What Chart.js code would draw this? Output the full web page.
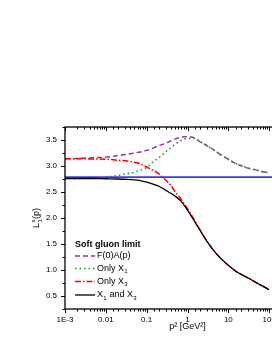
<!DOCTYPE html>
<html>
<head>
<meta charset="utf-8">
<script src="https://cdn.jsdelivr.net/npm/chart.js"></script>
<style>
  html, body { margin: 0; padding: 0; background: #fff; overflow: hidden; width: 272px; height: 352px; }
  canvas { display: block; }
</style>
</head>
<body>
<canvas id="chart" width="316" height="352"></canvas>
<script>
// p^2 sample points [GeV^2]
const p2 = [0.001, 0.002, 0.005, 0.01, 0.02, 0.03, 0.05, 0.07, 0.1, 0.15, 0.2, 0.3, 0.4, 0.5, 0.7,
            1, 1.5, 2, 3, 5, 7, 10, 15, 20, 30, 50, 70, 100];

// F(0)A(p)
const fA = [3.14, 3.145, 3.16, 3.17, 3.20, 3.22, 3.25, 3.27, 3.30, 3.35, 3.39, 3.44, 3.49, 3.52, 3.555,
            3.565, 3.54, 3.47, 3.39, 3.28, 3.20, 3.13, 3.05, 3.01, 2.96, 2.92, 2.89, 2.87];
// Only X1
const onlyX1 = [2.76, 2.76, 2.765, 2.785, 2.82, 2.845, 2.88, 2.92, 2.97, 3.09, 3.16, 3.28, 3.36, 3.42, 3.49,
                3.53, 3.53, 3.47, 3.39, 3.28, 3.20, 3.13, 3.05, 3.01, 2.96, 2.92, 2.89, 2.87];
// Only X3
const onlyX3 = [3.14, 3.14, 3.135, 3.13, 3.11, 3.10, 3.07, 3.04, 2.98, 2.91, 2.85, 2.72, 2.62, 2.50, 2.36,
                2.18, 1.95, 1.78, 1.55, 1.32, 1.20, 1.09, 0.98, 0.92, 0.85, 0.75, 0.69, 0.62];
// X1 and X3
const bothX = [2.76, 2.76, 2.76, 2.755, 2.75, 2.745, 2.735, 2.72, 2.69, 2.645, 2.61, 2.53, 2.47, 2.42, 2.32,
               2.15, 1.93, 1.77, 1.55, 1.32, 1.20, 1.09, 0.98, 0.92, 0.85, 0.75, 0.69, 0.62];

// horizontal reference line
const refX = [0.001, 1000];
const refY = [2.785, 2.785];

// the plot runs on to 1000 but the picture is cut just after 100
const xTickVals = [0.001, 0.01, 0.1, 1, 10, 100];
const xTickLabels = ['1E-3', '0.01', '0.1', '1', '10', '100'];
const yTickLabels = ['0.5', '1.0', '1.5', '2.0', '2.5', '3.0', '3.5'];

const legendTitle = 'Soft gluon limit';
// legend rows: [dataset index, text pieces]
const legendRows = [
  [4, [['F(0)A(p)', 'n']]],
  [3, [['Only X', 'n'], ['1', 'sub']]],
  [2, [['Only X', 'n'], ['3', 'sub']]],
  [0, [['X', 'n'], ['1', 'sub'], [' and X', 'n'], ['3', 'sub']]]
];

const FONT = "'Liberation Sans', Arial, sans-serif";

function pts(xs, ys) { return xs.map((x, i) => ({ x: x, y: ys[i] })); }
function isDecade(v) { const l = Math.log10(v); return Math.abs(l - Math.round(l)) < 1e-6; }

// draws text with sub/superscripts, returns end x
function drawRich(ctx, x, y, pieces, size) {
  pieces.forEach(([txt, mode]) => {
    if (mode === 'n') {
      ctx.font = `${size}px ${FONT}`;
      ctx.fillText(txt, x, y);
      x += ctx.measureText(txt).width;
    } else {
      ctx.font = `${Math.round(size * 0.62)}px ${FONT}`;
      ctx.fillText(txt, x + 0.3, y + (mode === 'sub' ? size * 0.32 : -size * 0.38));
      x += ctx.measureText(txt).width + 0.6;
    }
  });
  return x;
}

const decorPlugin = {
  id: 'decor',
  afterDraw(chart) {
    const ctx = chart.ctx;
    const a = chart.chartArea;
    const xs = chart.scales.x, ys = chart.scales.y;
    ctx.save();

    // ticks
    ctx.strokeStyle = '#000';
    ctx.lineWidth = 1;
    ctx.beginPath();
    xs.ticks.forEach(t => {
      const px = Math.round(xs.getPixelForValue(t.value)) + 0.5;
      const len = isDecade(t.value) ? 4 : 2.5;
      ctx.moveTo(px, a.bottom); ctx.lineTo(px, a.bottom + len);
      ctx.moveTo(px, a.top); ctx.lineTo(px, a.top + len);
    });
    ys.ticks.forEach(t => {
      const py = Math.round(ys.getPixelForValue(t.value)) + 0.5;
      const major = Math.abs(t.value * 2 - Math.round(t.value * 2)) < 1e-6;
      const len = major ? 4 : 2.5;
      ctx.moveTo(a.left, py); ctx.lineTo(a.left - len, py);
      ctx.moveTo(a.right, py); ctx.lineTo(a.right - len, py);
    });
    ctx.stroke();

    // frame
    ctx.lineWidth = 1.3;
    ctx.strokeRect(a.left, a.top, a.right - a.left, a.bottom - a.top);

    // y axis title  L_1^s(p)
    ctx.fillStyle = '#000';
    ctx.textBaseline = 'middle';
    ctx.translate(37, (a.top + a.bottom) / 2);
    ctx.rotate(-Math.PI / 2);
    const size = 9;
    ctx.font = `${size}px ${FONT}`;
    const wL = ctx.measureText('L').width;
    ctx.font = `${Math.round(size * 0.62)}px ${FONT}`;
    const wS = ctx.measureText('s').width + 0.8;
    ctx.font = `${size}px ${FONT}`;
    const wP = ctx.measureText('(p)').width;
    let x0 = -(wL + wS + wP) / 2;
    ctx.fillText('L', x0, 0);
    ctx.font = `${Math.round(size * 0.62)}px ${FONT}`;
    ctx.fillText('s', x0 + wL + 0.3, -size * 0.38);
    ctx.fillText('1', x0 + wL + 0.3, size * 0.32);
    ctx.font = `${size}px ${FONT}`;
    ctx.fillText('(p)', x0 + wL + wS, 0);
    ctx.setTransform(1, 0, 0, 1, 0, 0);

    // legend
    const lx = 75, ly0 = 244.5, rowsY = [256, 268.5, 281.5, 295];
    ctx.textBaseline = 'middle';
    ctx.font = `bold 9px ${FONT}`;
    ctx.fillText(legendTitle, lx, ly0);
    legendRows.forEach(([di, pieces], i) => {
      const ds = chart.data.datasets[di];
      const y = rowsY[i];
      ctx.save();
      ctx.strokeStyle = ds.borderColor;
      ctx.lineWidth = ds.borderWidth;
      ctx.setLineDash(ds.borderDash || []);
      ctx.beginPath();
      ctx.moveTo(lx, y); ctx.lineTo(lx + 20, y);
      ctx.stroke();
      ctx.restore();
      ctx.fillStyle = '#000';
      drawRich(ctx, lx + 22, y, pieces, 9);
    });
    ctx.restore();
  }
};

new Chart(document.getElementById('chart').getContext('2d'), {
  type: 'line',
  data: {
    datasets: [
      { label: 'X1 and X3', data: pts(p2, bothX), borderColor: '#000000', borderWidth: 1.3 },
      { label: 'ref', data: pts(refX, refY), borderColor: '#2f3ff0', borderWidth: 1.8 },
      { label: 'Only X3', data: pts(p2, onlyX3), borderColor: '#ff0000', borderWidth: 1.5, borderDash: [6, 2, 1.5, 2] },
      { label: 'Only X1', data: pts(p2, onlyX1), borderColor: '#1f9a1f', borderWidth: 1.6, borderDash: [1.5, 3] },
      { label: 'F(0)A(p)', data: pts(p2, fA), borderColor: '#9a2d9a', borderWidth: 1.4, borderDash: [5, 3] }
    ]
  },
  options: {
    responsive: false,
    animation: false,
    devicePixelRatio: 1,
    layout: { padding: { left: 0, right: 1, top: 127, bottom: 0 } },
    elements: {
      point: { radius: 0 },
      line: { cubicInterpolationMode: 'monotone', fill: false }
    },
    plugins: {
      legend: { display: false },
      tooltip: { enabled: false },
      title: { display: false }
    },
    scales: {
      x: {
        type: 'logarithmic',
        min: 0.001,
        max: 1000,
        grid: { display: false, drawTicks: false },
        border: { display: false },
        ticks: {
          autoSkip: false,
          maxRotation: 0,
          padding: 6,
          color: '#000',
          font: { family: FONT, size: 8 },
          callback: function(v) {
            const i = xTickVals.findIndex(t => Math.abs(Math.log10(t) - Math.log10(v)) < 1e-6);
            return i >= 0 ? xTickLabels[i] : '';
          }
        },
        title: {
          display: true,
          text: 'p² [GeV²]',
          color: '#000',
          font: { family: FONT, size: 9 },
          padding: { top: 0, bottom: 20 }
        },
        afterFit: s => { s.height = 43; }
      },
      y: {
        min: 0.25,
        max: 3.75,
        grid: { display: false, drawTicks: false },
        border: { display: false },
        ticks: {
          stepSize: 0.25,
          padding: 8,
          color: '#000',
          font: { family: FONT, size: 8 },
          callback: function(v) {
            const k = Math.round(v * 2) - 1;
            return Math.abs(v * 2 - Math.round(v * 2)) < 1e-6 && k >= 0 ? yTickLabels[k] : '';
          }
        },
        afterFit: s => { s.width = 65; }
      }
    }
  },
  plugins: [decorPlugin]
});
</script>
</body>
</html>
